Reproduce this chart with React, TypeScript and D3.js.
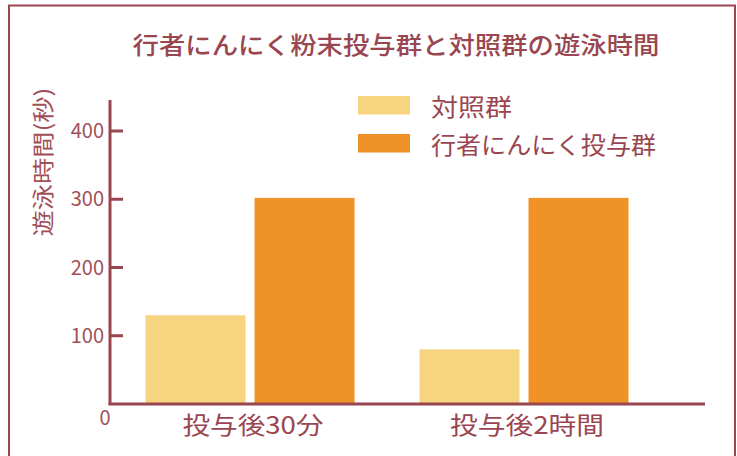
import * as d3 from "d3";

const categories = ["投与後30分", "投与後2時間"];
const series = ["対照群", "行者にんにく投与群"];
const controlValues = [130, 80];
const garlicValues = [302, 302];
const yTicks = [100, 200, 300, 400];

const width = 737;
const height = 456;
const font = "'Noto Sans CJK JP', 'Noto Sans', sans-serif";
const dark = "#9a4650";
const light = "#a24f58";
const colors = ["#f7d47f", "#ef9228"];
const catWidths = [141, 154];
const legendWidths = [81, 225];

export default function App() {
  const x0 = d3
    .scaleBand<string>()
    .domain(categories)
    .range([113, 661])
    .paddingInner(0.237)
    .paddingOuter(0.1186);
  const x1 = d3
    .scaleBand<string>()
    .domain(series)
    .range([0, x0.bandwidth()])
    .paddingInner(0.0826)
    .paddingOuter(0);
  const y = d3.scaleLinear().domain([0, 400]).range([404, 131]);

  const rows = categories.map((c, i) => ({
    cat: c,
    vals: [controlValues[i], garlicValues[i]],
  }));

  return (
    <svg
      width={width}
      height={height}
      style={{ position: "absolute", left: 0, top: 0 }}
      fontFamily={font}
    >
      <rect x={0} y={0} width={width} height={height} fill="#fff" />
      <path
        d={`M9,${height} V5.5 H735 V${height}`}
        fill="none"
        stroke={dark}
        strokeWidth={2}
      />
      <text
        x={396}
        y={54}
        textAnchor="middle"
        fontSize={24}
        fontWeight={500}
        fill={dark}
        textLength={527}
        lengthAdjust="spacingAndGlyphs"
      >
        行者にんにく粉末投与群と対照群の遊泳時間
      </text>

      <text
        transform="translate(51,162) rotate(-90)"
        textAnchor="middle"
        fontSize={22}
        fill={light}
        textLength={149}
        lengthAdjust="spacingAndGlyphs"
      >
        遊泳時間(秒)
      </text>

      {rows.map((r) => (
        <g key={r.cat} transform={`translate(${x0(r.cat)},0)`}>
          {r.vals.map((v, j) => (
            <rect
              key={series[j]}
              x={x1(series[j])}
              y={y(v)}
              width={x1.bandwidth()}
              height={y(0) - y(v)}
              fill={colors[j]}
            />
          ))}
        </g>
      ))}

      <line x1={110} x2={110} y1={100} y2={405} stroke={dark} strokeWidth={3} />
      <line x1={108.5} x2={705} y1={404} y2={404} stroke={dark} strokeWidth={3} />
      {yTicks.map((t) => (
        <g key={t}>
          <line x1={110} x2={123} y1={y(t)} y2={y(t)} stroke={dark} strokeWidth={3} />
          <text
            x={104}
            y={y(t)}
            dy="0.36em"
            textAnchor="end"
            fontSize={20}
            fill={light}
          >
            {t}
          </text>
        </g>
      ))}
      <text x={105} y={418} dy="0.36em" textAnchor="middle" fontSize={20} fill={light}>
        0
      </text>

      {categories.map((c, i) => (
        <text
          key={c}
          x={(x0(c) ?? 0) + x0.bandwidth() / 2 + 3}
          y={425}
          dy="0.36em"
          textAnchor="middle"
          fontSize={24}
          fill={dark}
          textLength={catWidths[i]}
          lengthAdjust="spacingAndGlyphs"
        >
          {c}
        </text>
      ))}

      {series.map((s, i) => (
        <g key={s} transform={`translate(358,${96 + i * 38})`}>
          <rect x={0} y={0} width={52} height={18.5} fill={colors[i]} />
          <text
            x={73}
            y={11}
            dy="0.36em"
            fontSize={24}
            fill={dark}
            textLength={legendWidths[i]}
            lengthAdjust="spacingAndGlyphs"
          >
            {s}
          </text>
        </g>
      ))}
    </svg>
  );
}
